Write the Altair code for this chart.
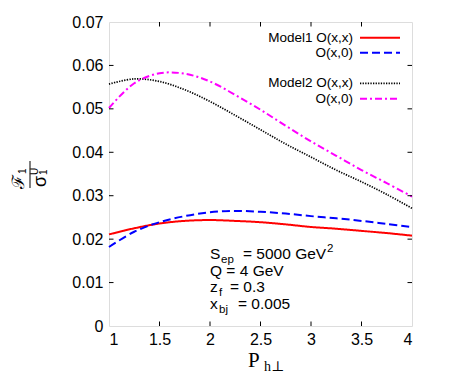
import altair as alt
import pandas as pd

# ---------------- data ----------------
x_vals = [1.0, 1.25, 1.5, 1.75, 2.0, 2.25, 2.5, 2.75, 3.0, 3.25, 3.5, 3.75, 4.0]
model1_xx = [0.0211, 0.0225, 0.0236, 0.0242, 0.0244, 0.0242, 0.0239, 0.0234, 0.0228, 0.0224, 0.0219, 0.0214, 0.0208]
model1_x0 = [0.0182, 0.0217, 0.0239, 0.0253, 0.0262, 0.0265, 0.0263, 0.0259, 0.0253, 0.0248, 0.0242, 0.0235, 0.0228]
model2_xx = [0.0557, 0.0569, 0.0563, 0.0544, 0.0517, 0.0485, 0.0452, 0.0419, 0.0389, 0.0359, 0.0332, 0.0303, 0.0271]
model2_x0 = [0.0502, 0.0559, 0.0582, 0.0581, 0.0563, 0.0532, 0.0498, 0.0461, 0.0425, 0.0392, 0.0359, 0.0329, 0.0298]

x_ticks = [1, 1.5, 2, 2.5, 3, 3.5, 4]
y_ticks = [0, 0.01, 0.02, 0.03, 0.04, 0.05, 0.06, 0.07]

legend_labels = ["Model1 O(x,x)", "O(x,0)", "Model2 O(x,x)", "O(x,0)"]
series = [model1_xx, model1_x0, model2_xx, model2_x0]
colors = ["#ff0000", "#0000ff", "#000000", "#ff00ff"]
dashes = [[1, 0], [8, 4], [1.3, 1.3], [7, 3, 2, 3]]
widths = [2, 2, 1.7, 2]

ann_lines = [("S", "ep", "= 5000 GeV", "2"), ("Q = 4 GeV",), ("z", "f", "= 0.3"), ("x", "bj", "= 0.005")]

W, H = 303, 304
SANS = "Liberation Sans"
SERIF = "Liberation Serif, DejaVu Serif"

xs = alt.Scale(domain=[1, 4], nice=False, zero=False)
ys = alt.Scale(domain=[0, 0.07], nice=False)


def txt(s, x, y, size, font=SANS, align="left", angle=0, baseline="alphabetic"):
    return alt.Chart(pd.DataFrame({"t": [s]})).mark_text(
        font=font, fontSize=size, align=align, angle=angle, baseline=baseline, color="black"
    ).encode(x=alt.value(x), y=alt.value(y), text="t:N")


layers = []

axis_x = alt.Axis(values=x_ticks, labelExpr="format(datum.value, '.1~f')", title=None,
                  ticks=False, domain=False, grid=False, labelFontSize=16, labelFont=SANS,
                  labelColor="black", labelPadding=5)
axis_y = alt.Axis(values=y_ticks, labelExpr="format(datum.value, '.2~f')", title=None,
                  ticks=False, domain=False, grid=False, labelFontSize=16, labelFont=SANS,
                  labelColor="black", labelPadding=6)

for i, (vals, c, d, w) in enumerate(zip(series, colors, dashes, widths)):
    df = pd.DataFrame({"x": x_vals, "y": vals})
    mk = alt.Chart(df).mark_line(color=c, strokeWidth=w, strokeDash=d, interpolate="catmull-rom")
    if i == 0:
        ch = mk.encode(x=alt.X("x:Q", scale=xs, axis=axis_x), y=alt.Y("y:Q", scale=ys, axis=axis_y))
    else:
        ch = mk.encode(x=alt.X("x:Q", scale=xs), y=alt.Y("y:Q", scale=ys))
    layers.append(ch)

# inward ticks on all four sides
xt = pd.DataFrame({"v": x_ticks[1:-1]})
yt = pd.DataFrame({"v": y_ticks[1:-1]})
tk = 4.5
layers.append(alt.Chart(xt).mark_rule(color="black", strokeWidth=1).encode(
    x=alt.X("v:Q", scale=xs), y=alt.value(H), y2=alt.value(H - tk)))
layers.append(alt.Chart(xt).mark_rule(color="black", strokeWidth=1).encode(
    x=alt.X("v:Q", scale=xs), y=alt.value(0), y2=alt.value(tk)))
layers.append(alt.Chart(yt).mark_rule(color="black", strokeWidth=1).encode(
    y=alt.Y("v:Q", scale=ys), x=alt.value(0), x2=alt.value(tk)))
layers.append(alt.Chart(yt).mark_rule(color="black", strokeWidth=1).encode(
    y=alt.Y("v:Q", scale=ys), x=alt.value(W), x2=alt.value(W - tk)))

# legend
rows_y = [15.7, 30.7, 61.3, 76.7]
for lab, c, d, w, ry in zip(legend_labels, colors, dashes, widths, rows_y):
    layers.append(txt(lab, 244, ry, 13.5, align="right", baseline="middle"))
    layers.append(alt.Chart(pd.DataFrame({"a": [0]})).mark_rule(
        color=c, strokeWidth=w, strokeDash=d).encode(
        x=alt.value(251), x2=alt.value(291), y=alt.value(ry)))

# annotation
FS = 15.5
l1, l2, l3, l4 = ann_lines
layers.append(txt(l1[0], 101, 237, FS))
layers.append(txt(l1[1], 112, 241, 11.5))
layers.append(txt(l1[2], 134, 237, FS))
layers.append(txt(l1[3], 218, 230, 11.5))
layers.append(txt(l2[0], 101, 254, FS))
layers.append(txt(l3[0], 101, 270, FS))
layers.append(txt(l3[1], 110, 274, 11.5))
layers.append(txt(l3[2], 121, 270, FS))
layers.append(txt(l4[0], 101, 287, FS))
layers.append(txt(l4[1], 110, 291, 11.5))
layers.append(txt(l4[2], 129, 287, FS))

# x title
layers.append(txt("P", 139, 345, 21, font=SERIF))
layers.append(txt("h⊥", 155, 349, 14, font=SERIF))

# y title (rotated fraction)
layers.append(txt("ℱ", -85, 167, 17, font="DejaVu Serif", angle=270))
layers.append(txt("1", -83, 152, 10, angle=270))
layers.append(alt.Chart(pd.DataFrame({"a": [0]})).mark_rule(color="black", strokeWidth=1).encode(
    x=alt.value(-79), y=alt.value(139), y2=alt.value(166)))
layers.append(txt("σ", -63, 165, 18, angle=270))
layers.append(txt("1", -62, 153, 10, angle=270))
layers.append(txt("U", -71, 153, 10, angle=270))

chart = alt.layer(*layers).properties(
    width=W, height=H,
    autosize=alt.AutoSizeParams(type="none"),
    padding={"left": 101, "top": 14, "right": 30, "bottom": 48},
).configure_view(stroke="black", strokeWidth=1).configure(background="white")

chart.save("out.html", embed_options={"renderer": "svg", "actions": False})
